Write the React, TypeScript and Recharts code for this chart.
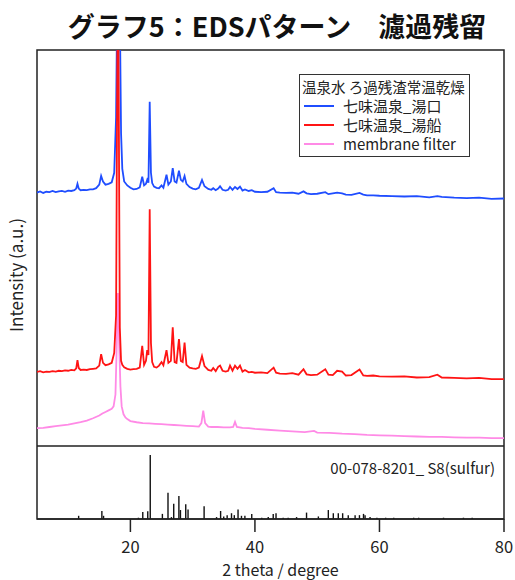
import {
  Bar,
  ComposedChart,
  Legend,
  Line,
  LineChart,
  ReferenceArea,
  XAxis,
  YAxis,
} from "recharts";

const FONT = '"Noto Sans CJK JP", "Noto Sans", sans-serif';

// 2θ grid shared by the two hot-spring residue scans
const springTheta = [
  5.0, 5.5, 6.0, 6.5, 7.0, 7.5, 8.0, 8.5, 9.0, 9.5,
  10.0, 10.5, 11.0, 11.3, 11.5, 11.7, 12.0, 12.5, 13.0, 13.5,
  14.0, 14.5, 15.0, 15.3, 15.6, 16.0, 16.5, 17.0, 17.4, 17.7,
  18.0, 18.3, 18.5, 18.7, 19.0, 19.5, 20.0, 20.5, 21.0, 21.5,
  21.9, 22.2, 22.5, 22.7, 22.9, 23.1, 23.3, 23.5, 23.8, 24.2,
  24.6, 25.0, 25.3, 25.8, 26.1, 26.5, 26.8, 27.1, 27.4, 27.8,
  28.1, 28.4, 28.7, 29.0, 29.5, 30.0, 30.5, 31.0, 31.5, 31.9,
  32.5, 33.0, 33.3, 33.7, 34.1, 34.4, 34.8, 35.3, 35.7, 36.0,
  36.4, 36.8, 37.2, 37.6, 38.0, 38.4, 39.0, 39.5, 40.0, 41.0,
  42.0, 43.0, 43.4, 44.0, 45.0, 46.0, 47.0, 47.8, 48.3, 49.0,
  50.0, 51.3, 51.8, 52.5, 53.2, 54.0, 54.6, 55.5, 56.8, 57.4,
  58.0, 59.0, 60.0, 62.0, 64.0, 66.0, 68.0, 69.3, 70.0, 72.0,
  74.0, 76.0, 78.0, 80.0,
];

// 七味温泉_湯口 (offset trace, top)
const yuguchiCounts = [
  640, 643, 639, 642, 641, 644, 641, 643, 644, 642,
  645, 644, 646, 650, 662, 650, 646, 647, 646, 648,
  648, 651, 660, 682, 668, 660, 662, 666, 690, 830,
  1300, 1100, 790, 700, 668, 658, 652, 648, 649, 653,
  680, 658, 662, 672, 665, 869, 690, 664, 655, 652,
  651, 658, 652, 685, 660, 668, 702, 668, 665, 695,
  672, 668, 682, 662, 654, 650, 648, 652, 672, 656,
  649, 647, 651, 646, 650, 656, 647, 645, 647, 654,
  647, 654, 649, 655, 645, 648, 644, 646, 642, 641,
  642, 651, 641, 640, 639, 640, 637, 643, 638, 636,
  637, 641, 636, 638, 640, 638, 635, 634, 639, 635,
  633, 633, 632, 631, 630, 631, 628, 631, 629, 627,
  626, 627, 624, 625,
];

// 七味温泉_湯船 (offset trace, middle)
const yubuneCounts = [
  187, 189, 186, 188, 187, 189, 188, 190, 189, 191,
  190, 192, 191, 196, 217, 197, 192, 193, 192, 194,
  195, 196, 203, 232, 210, 204, 206, 210, 235, 330,
  1300, 300, 215, 205, 199, 195, 193, 194, 195, 198,
  253, 205, 215, 242, 230, 598, 260, 212, 200, 198,
  203, 212, 204, 242, 210, 215, 300, 212, 210, 270,
  215, 212, 261, 205, 198, 196, 195, 198, 227, 202,
  192, 190, 197, 189, 200, 203, 190, 188, 190, 203,
  190, 203, 195, 203, 188, 192, 186, 187, 185, 186,
  184, 198, 185, 183, 182, 184, 180, 194, 181, 179,
  180, 194, 180, 179, 190, 188, 178, 179, 193, 178,
  177, 178, 176, 175, 176, 173, 174, 180, 173, 172,
  171, 172, 169, 169,
];

// membrane filter blank
const filterTheta = [
  5, 6, 7, 8, 9, 10, 11, 12, 13, 14,
  15, 15.5, 16, 16.5, 17, 17.3, 17.6, 17.8, 18.0, 18.2,
  18.4, 18.6, 18.9, 19.2, 19.5, 20, 21, 22, 23, 24,
  25, 26, 27, 28, 29, 30, 31, 31.4, 31.7, 32.0,
  32.5, 33, 34, 35, 36, 36.5, 36.8, 37.1, 38, 39,
  40, 42, 44, 46, 48, 49.5, 50, 52, 54, 56,
  58, 60, 62, 64, 66, 68, 70, 72, 74, 76,
  78, 80,
];
const filterCounts = [
  45, 46, 48, 50, 52, 54, 57, 60, 64, 70,
  77, 82, 86, 90, 94, 100, 130, 250, 386, 260,
  150, 100, 80, 72, 68, 63, 60, 58, 57, 56,
  55, 54, 53, 52, 51, 50, 49, 58, 89, 58,
  49, 48, 48, 47, 47, 48, 61, 48, 46, 45,
  43, 41, 39, 37, 35, 38, 34, 33, 31, 30,
  28, 27, 26, 25, 24, 23, 23, 22, 21, 21,
  20, 20,
];

// reference card 00-078-8201, S8
const refTheta = [
  11.7, 15.43, 15.7, 21.3, 22.0, 22.8, 23.2, 25.15, 26.05, 26.6,
  26.97, 27.8, 28.05, 28.9, 29.27, 31.85, 33.85, 34.5, 35.0, 35.55,
  36.25, 36.7, 37.3, 37.85, 38.4, 39.5, 41.1, 42.15, 42.95, 43.4,
  44.55, 45.35, 46.7, 48.3, 50.2, 51.8, 52.6, 53.4, 54.1, 55.0,
  56.1, 56.8, 57.45, 57.7, 58.5, 59.6, 61.0, 62.3, 65.5, 66.3,
  70.3, 73.5, 74.9,
];
const refIntensity = [
  5, 12.5, 5, 2, 11, 12, 100, 8, 41, 3,
  24, 36, 14, 23, 15, 20, 3, 12.5, 4, 6,
  9, 6, 15, 5, 5, 8, 2, 3, 8, 9,
  2, 2, 3, 10, 4, 14, 9, 9, 9, 6,
  6, 6, 8, 6, 3, 2, 2, 2, 2, 2,
  2, 2, 2,
];

const xTicks = [20, 40, 60, 80];

const series = [
  { name: "七味温泉_湯口", color: "#1f4dff", theta: springTheta, counts: yuguchiCounts },
  { name: "七味温泉_湯船", color: "#ff1414", theta: springTheta, counts: yubuneCounts },
  { name: "membrane filter", color: "#ff8ae6", theta: filterTheta, counts: filterCounts },
];

const toPoints = (theta: number[], counts: number[]) =>
  theta.map((t, i) => ({ t, v: counts[i] }));

const sticks = refTheta.map((t, i) => ({ t, i: refIntensity[i] }));

const FRAME = "#222";

function LegendBox() {
  return (
    <div
      style={{
        border: "1px solid #333",
        background: "#fff",
        width: 169,
        padding: "2px 0 3px 0",
        fontFamily: FONT,
        color: "#222",
      }}
    >
      <div style={{ fontSize: 14.5, lineHeight: "19px", paddingLeft: 2, whiteSpace: "nowrap" }}>
        温泉水 ろ過残渣常温乾燥
      </div>
      {series.map((s) => (
        <div key={s.name} style={{ display: "flex", alignItems: "center", height: 19 }}>
          <span style={{ display: "inline-block", width: 30, height: 2, background: s.color, marginLeft: 4, marginRight: 9 }} />
          <span style={{ fontSize: 15, whiteSpace: "nowrap" }}>{s.name}</span>
        </div>
      ))}
    </div>
  );
}

export default function App() {
  // drawn bottom-up so the red scan sits on top of the others
  const drawOrder = [series[2], series[0], series[1]];

  return (
    <div
      style={{
        position: "absolute",
        left: 0,
        top: 0,
        width: 515,
        height: 580,
        background: "#fff",
        fontFamily: FONT,
        overflow: "hidden",
      }}
    >
      <div
        style={{
          position: "absolute",
          left: 0,
          top: 10,
          width: 554,
          textAlign: "center",
          fontSize: 27,
          lineHeight: "32px",
          fontWeight: 700,
          color: "#111",
          whiteSpace: "nowrap",
        }}
      >
        グラフ5：EDSパターン　濾過残留
      </div>

      <div style={{ position: "absolute", left: 0, top: 0 }}>
        <LineChart width={515} height={446} margin={{ top: 50, right: 11, bottom: 0, left: 37 }}>
          <XAxis hide type="number" dataKey="t" domain={[5, 80]} allowDataOverflow />
          <YAxis hide type="number" domain={[0, 1000]} allowDataOverflow />
          {drawOrder.map((s) => (
            <Line
              key={s.name}
              data={toPoints(s.theta, s.counts)}
              dataKey="v"
              name={s.name}
              type="linear"
              stroke={s.color}
              strokeWidth={1.8}
              dot={false}
              isAnimationActive={false}
            />
          ))}
          <ReferenceArea x1={5} x2={80} y1={0} y2={1000} fill="none" stroke={FRAME} strokeWidth={1.5} />
          <Legend
            layout="vertical"
            align="center"
            verticalAlign="middle"
            wrapperStyle={{ top: 74, left: 299, width: 171 }}
            content={() => <LegendBox />}
          />
        </LineChart>
      </div>

      <div
        style={{
          position: "absolute",
          left: 16 - 100,
          top: 275 - 11,
          width: 200,
          height: 22,
          lineHeight: "22px",
          textAlign: "center",
          fontSize: 17,
          color: "#222",
          transform: "rotate(-90deg)",
          whiteSpace: "nowrap",
        }}
      >
        Intensity (a.u.)
      </div>

      <div style={{ position: "absolute", left: 0, top: 446 }}>
        <ComposedChart width={515} height={134} data={sticks} margin={{ top: 0, right: 11, bottom: 0, left: 37 }}>
          <XAxis
            type="number"
            dataKey="t"
            domain={[5, 80]}
            ticks={xTicks}
            interval={0}
            height={61}
            tickSize={13}
            tickMargin={9}
            axisLine={{ stroke: FRAME, strokeWidth: 1.5 }}
            tickLine={{ stroke: FRAME, strokeWidth: 1.5 }}
            tick={{ fontSize: 16.5, fill: "#222" }}
            label={{
              value: "2 theta / degree",
              position: "insideBottom",
              offset: 4,
              dx: 10,
              fontSize: 16,
              fill: "#222",
            }}
          />
          <YAxis hide type="number" domain={[0, 114]} />
          <Bar dataKey="i" barSize={2} fill="#111" isAnimationActive={false} />
          <ReferenceArea x1={5} x2={80} y1={0} y2={114} fill="none" stroke={FRAME} strokeWidth={1.5} />
        </ComposedChart>
      </div>

      <div
        style={{
          position: "absolute",
          right: 20,
          top: 457,
          fontSize: 15,
          lineHeight: "22px",
          color: "#222",
          whiteSpace: "nowrap",
        }}
      >
        00-078-8201_ S8(sulfur)
      </div>
    </div>
  );
}
